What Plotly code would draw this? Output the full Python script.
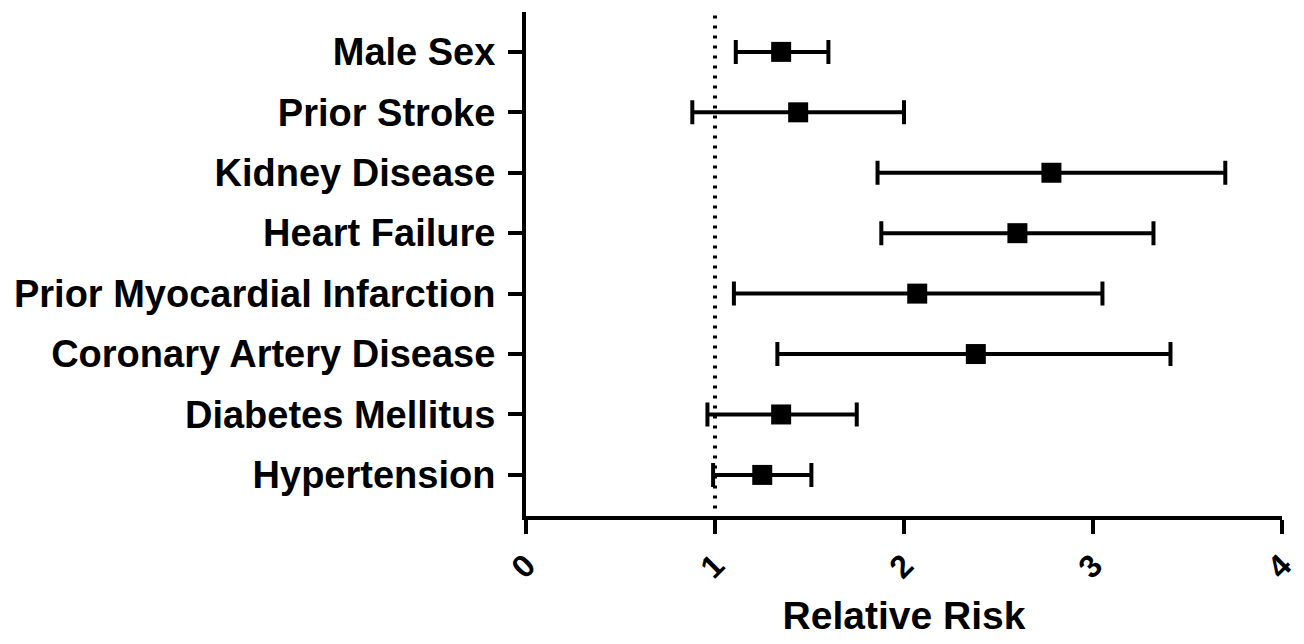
import plotly.graph_objects as go

factors = ["Male Sex", "Prior Stroke", "Kidney Disease", "Heart Failure",
           "Prior Myocardial Infarction", "Coronary Artery Disease",
           "Diabetes Mellitus", "Hypertension"]
rr = [1.35, 1.44, 2.78, 2.60, 2.07, 2.38, 1.35, 1.25]
ci_low = [1.11, 0.88, 1.86, 1.88, 1.10, 1.33, 0.96, 0.99]
ci_high = [1.60, 2.00, 3.70, 3.32, 3.05, 3.41, 1.75, 1.51]
x_ticks = [0, 1, 2, 3, 4]

FONT = "Liberation Sans, Arial, sans-serif"

fig = go.Figure()
fig.add_trace(go.Scatter(
    x=rr, y=factors, mode="markers",
    marker=dict(symbol="square", size=20, color="black"),
    error_x=dict(type="data", symmetric=False,
                 array=[h - p for h, p in zip(ci_high, rr)],
                 arrayminus=[p - l for p, l in zip(rr, ci_low)],
                 color="black", thickness=4, width=12),
    showlegend=False, cliponaxis=False,
))

fig.add_shape(type="line", x0=1, x1=1, xref="x", y0=0.015, y1=1, yref="paper",
              line=dict(color="black", width=4, dash="3px,7px"), layer="below")

fig.update_layout(
    width=1304, height=644,
    margin=dict(l=526, r=22, t=12, b=128, autoexpand=False),
    plot_bgcolor="white", paper_bgcolor="white",
    font=dict(family=FONT, color="black"),
    xaxis=dict(range=[0, 4], tickvals=x_ticks, ticktext=[str(t) for t in x_ticks],
               automargin=False,
               showgrid=False, zeroline=False, showline=True, linewidth=4,
               linecolor="black", ticks="outside", ticklen=14, tickwidth=4,
               tickcolor="black", tickangle=-45,
               tickfont=dict(size=32, family=FONT, weight="bold"),
               title=dict(text="Relative Risk", standoff=18,
                          font=dict(size=39, family=FONT, weight="bold"))),
    yaxis=dict(type="category", categoryorder="array",
               categoryarray=factors[::-1], range=[-0.68, 7.66],
               automargin=False,
               showgrid=False, zeroline=False, showline=True, linewidth=4,
               linecolor="black", ticks="outside", ticklen=14, tickwidth=4,
               tickcolor="black", ticklabelstandoff=5,
               tickfont=dict(size=38, family=FONT, weight="bold")),
)

fig.write_html("out.html")
